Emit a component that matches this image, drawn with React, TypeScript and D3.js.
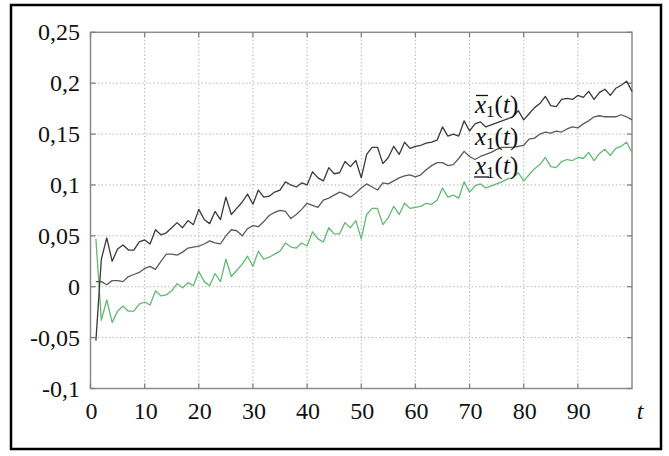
import React, { useEffect, useRef } from "react";
import * as d3 from "d3";

const tValues: number[] = d3.range(1, 101);

const upperValues: number[] = [
  -0.053, 0.027, 0.048, 0.025, 0.037, 0.041, 0.036, 0.036, 0.044, 0.046,
  0.042, 0.056, 0.051, 0.053, 0.058, 0.063, 0.058, 0.065, 0.061, 0.076,
  0.066, 0.062, 0.074, 0.066, 0.088, 0.071, 0.077, 0.083, 0.091, 0.081,
  0.095, 0.088, 0.089, 0.093, 0.095, 0.103, 0.100, 0.098, 0.102, 0.100,
  0.113, 0.107, 0.104, 0.117, 0.111, 0.112, 0.123, 0.118, 0.124, 0.107,
  0.130, 0.137, 0.137, 0.121, 0.127, 0.138, 0.130, 0.142, 0.136, 0.138,
  0.139, 0.141, 0.142, 0.144, 0.157, 0.148, 0.150, 0.148, 0.163, 0.153,
  0.160, 0.162, 0.157, 0.159, 0.161, 0.163, 0.165, 0.167, 0.173, 0.164,
  0.170, 0.176, 0.180, 0.187, 0.178, 0.177, 0.184, 0.185, 0.184, 0.188,
  0.186, 0.192, 0.184, 0.191, 0.194, 0.188, 0.195, 0.198, 0.202, 0.192,
];

const middleValues: number[] = [
  0.005, 0.005, 0.002, 0.006, 0.006, 0.005, 0.010, 0.012, 0.014, 0.018,
  0.020, 0.017, 0.025, 0.032, 0.032, 0.031, 0.034, 0.038, 0.039, 0.040,
  0.042, 0.045, 0.043, 0.042, 0.050, 0.056, 0.055, 0.050, 0.057, 0.060,
  0.059, 0.064, 0.070, 0.073, 0.075, 0.074, 0.067, 0.071, 0.076, 0.082,
  0.080, 0.078, 0.085, 0.087, 0.090, 0.093, 0.091, 0.088, 0.092, 0.097,
  0.101, 0.098, 0.095, 0.102, 0.101, 0.104, 0.107, 0.109, 0.110, 0.108,
  0.110, 0.115, 0.119, 0.122, 0.122, 0.119, 0.120, 0.126, 0.133, 0.128,
  0.125, 0.128, 0.130, 0.132, 0.135, 0.137, 0.137, 0.137, 0.138, 0.139,
  0.145, 0.146, 0.150, 0.152, 0.151, 0.153, 0.152, 0.155, 0.157, 0.156,
  0.160, 0.163, 0.167, 0.168, 0.167, 0.167, 0.167, 0.169, 0.167, 0.164,
];

const lowerValues: number[] = [
  0.047, -0.033, -0.013, -0.035, -0.024, -0.019, -0.024, -0.024, -0.017, -0.015,
  -0.018, -0.004, -0.009, -0.008, -0.004, 0.003, -0.001, 0.004, 0.001, 0.015,
  0.005, 0.001, 0.013, 0.005, 0.027, 0.010, 0.016, 0.022, 0.030, 0.020,
  0.035, 0.027, 0.029, 0.032, 0.035, 0.043, 0.039, 0.038, 0.043, 0.040,
  0.054, 0.047, 0.044, 0.058, 0.052, 0.052, 0.063, 0.058, 0.065, 0.047,
  0.071, 0.077, 0.077, 0.061, 0.068, 0.079, 0.071, 0.082, 0.077, 0.078,
  0.079, 0.082, 0.081, 0.085, 0.097, 0.088, 0.090, 0.087, 0.103, 0.093,
  0.099, 0.101, 0.097, 0.099, 0.101, 0.103, 0.106, 0.107, 0.112, 0.104,
  0.110, 0.116, 0.120, 0.127, 0.118, 0.117, 0.123, 0.125, 0.124, 0.127,
  0.126, 0.132, 0.124, 0.131, 0.135, 0.129, 0.136, 0.138, 0.142, 0.132,
];

const xTicks: number[] = [0, 10, 20, 30, 40, 50, 60, 70, 80, 90];
const yTicks: number[] = [-0.1, -0.05, 0, 0.05, 0.1, 0.15, 0.2, 0.25];
const yTickLabels: string[] = ["-0,1", "-0,05", "0", "0,05", "0,1", "0,15", "0,2", "0,25"];

const W = 669;
const H = 456;
const SERIF = "Times New Roman";

export default function App() {
  const ref = useRef<SVGSVGElement | null>(null);

  useEffect(() => {
    const svg = d3.select(ref.current);
    svg.selectAll("*").remove();

    const x = d3.scaleLinear().domain([0, 100]).range([90.5, 632]);
    const y = d3.scaleLinear().domain([-0.1, 0.25]).range([388.5, 32.3]);
    const left = x(0), right = x(100), top = y(0.25), bottom = y(-0.1);

    svg.append("rect").attr("width", W).attr("height", H).attr("fill", "#fff");
    svg.append("rect").attr("x", 11).attr("y", 5).attr("width", 650).attr("height", 444)
      .attr("fill", "none").attr("stroke", "#000").attr("stroke-width", 2.5);

    const grid = svg.append("g").attr("stroke", "#b5b5b5").attr("stroke-dasharray", "1.5,2.2");
    grid.selectAll("line.gx").data(xTicks.filter((t) => t > 0)).join("line")
      .attr("x1", (t) => x(t)).attr("x2", (t) => x(t)).attr("y1", top).attr("y2", bottom);
    grid.selectAll("line.gy").data(yTicks.filter((v) => v > -0.1 && v < 0.25)).join("line")
      .attr("x1", left).attr("x2", right).attr("y1", (v) => y(v)).attr("y2", (v) => y(v));

    svg.append("rect").attr("x", left).attr("y", top).attr("width", right - left)
      .attr("height", bottom - top).attr("fill", "none").attr("stroke", "#8c8c8c").attr("stroke-width", 1.5);

    const ticks = svg.append("g").attr("stroke", "#808080").attr("stroke-width", 1.3);
    yTicks.forEach((v) => {
      ticks.append("line").attr("x1", left).attr("x2", left + 5).attr("y1", y(v)).attr("y2", y(v));
      ticks.append("line").attr("x1", right - 5).attr("x2", right).attr("y1", y(v)).attr("y2", y(v));
    });
    xTicks.forEach((t) => {
      ticks.append("line").attr("x1", x(t)).attr("x2", x(t)).attr("y1", bottom).attr("y2", bottom - 5);
      ticks.append("line").attr("x1", x(t)).attr("x2", x(t)).attr("y1", top).attr("y2", top + 5);
    });

    const line = d3.line<number>().x((_, i) => x(tValues[i])).y((d) => y(d));
    const series: [number[], string][] = [
      [lowerValues, "#62b874"],
      [middleValues, "#5a5a5a"],
      [upperValues, "#3a3a3a"],
    ];
    series.forEach(([vals, col]) => {
      svg.append("path").attr("d", line(vals) || "").attr("fill", "none")
        .attr("stroke", col).attr("stroke-width", 1.3).attr("stroke-linejoin", "round");
    });

    const txt = svg.append("g").attr("font-family", SERIF).attr("fill", "#111");
    yTicks.forEach((v, i) => {
      txt.append("text").attr("x", 80).attr("y", y(v) + 8).attr("text-anchor", "end")
        .attr("font-size", 24).text(yTickLabels[i]);
    });
    xTicks.forEach((t) => {
      txt.append("text").attr("x", x(t) + 1).attr("y", 419).attr("text-anchor", "middle")
        .attr("font-size", 24).text(String(t));
    });
    txt.append("text").attr("x", 640).attr("y", 419).attr("text-anchor", "middle")
      .attr("font-size", 24).attr("font-style", "italic").text("t");

    const labels: [number, string][] = [[113, "over"], [145, "none"], [173.5, "under"]];
    labels.forEach(([yb, deco]) => {
      const t = txt.append("text").attr("x", 475).attr("y", yb).attr("font-size", 25);
      t.append("tspan").attr("font-style", "italic").text("x");
      t.append("tspan").attr("font-size", 17).attr("dy", 4).text("1");
      t.append("tspan").attr("dy", -4).text("(");
      t.append("tspan").attr("font-style", "italic").text("t");
      t.append("tspan").text(")");
      if (deco === "over") {
        svg.append("line").attr("x1", 476).attr("x2", 488).attr("y1", yb - 17.5).attr("y2", yb - 17.5)
          .attr("stroke", "#111").attr("stroke-width", 1.3);
      } else if (deco === "under") {
        svg.append("line").attr("x1", 474).attr("x2", 489).attr("y1", yb + 3.5).attr("y2", yb + 3.5)
          .attr("stroke", "#111").attr("stroke-width", 1.3);
      }
    });
  }, []);

  return (
    <svg ref={ref} width={W} height={H} style={{ position: "absolute", left: 0, top: 0 }} />
  );
}
